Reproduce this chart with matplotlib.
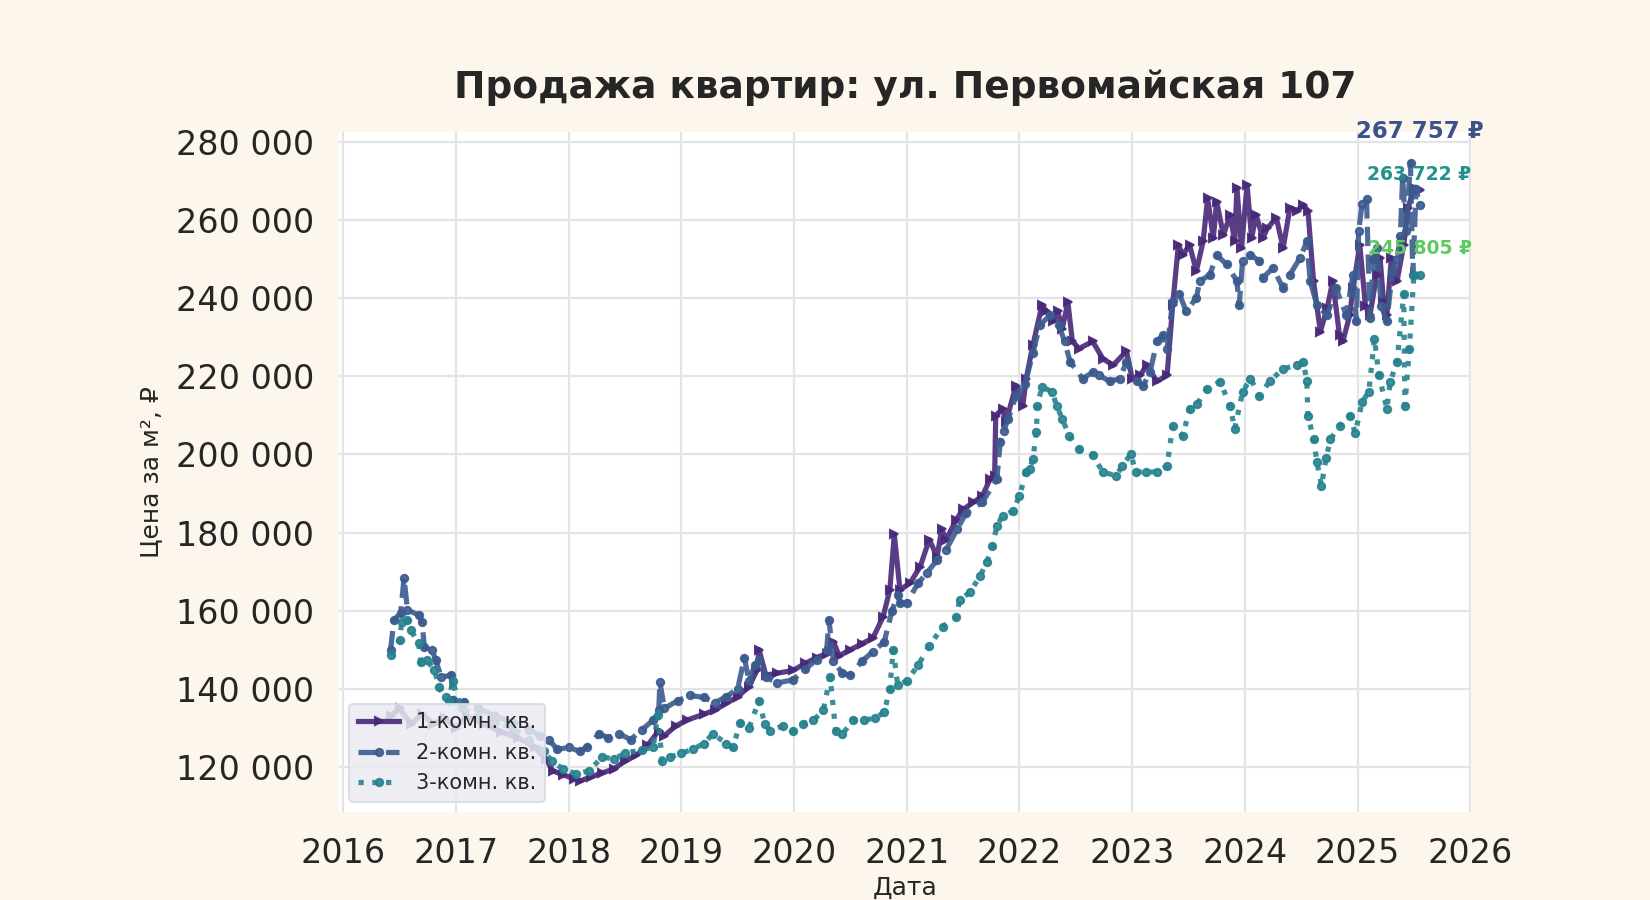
import matplotlib
matplotlib.use("Agg")
import matplotlib.pyplot as plt
from matplotlib.ticker import FuncFormatter

# ---------------- data (decimal years, price per m2) ----------------
labels = ["1-комн. кв.", "2-комн. кв.", "3-комн. кв."]

x1 = [2016.42, 2016.50, 2016.60, 2016.70, 2016.80, 2016.90, 2017.00, 2017.10, 2017.25, 2017.40,
      2017.55, 2017.70, 2017.80, 2017.86, 2017.95, 2018.05, 2018.10, 2018.20, 2018.30, 2018.40,
      2018.50, 2018.60, 2018.70, 2018.80, 2018.85, 2018.95, 2019.05, 2019.20, 2019.30, 2019.40,
      2019.50, 2019.60, 2019.67, 2019.69, 2019.75, 2019.85, 2019.99, 2020.10, 2020.20, 2020.29,
      2020.35, 2020.40, 2020.50, 2020.60, 2020.70, 2020.79, 2020.85, 2020.89, 2020.94, 2021.03,
      2021.12, 2021.20, 2021.27, 2021.31, 2021.35, 2021.44, 2021.50, 2021.59, 2021.67, 2021.74,
      2021.78, 2021.79, 2021.85, 2021.88, 2021.97, 2022.03, 2022.06, 2022.12, 2022.20, 2022.24,
      2022.30, 2022.34, 2022.38, 2022.43, 2022.47, 2022.53, 2022.65, 2022.74, 2022.83, 2022.95,
      2023.00, 2023.07, 2023.13, 2023.22, 2023.31, 2023.36, 2023.41, 2023.45, 2023.51, 2023.57,
      2023.63, 2023.67, 2023.72, 2023.75, 2023.81, 2023.87, 2023.91, 2023.93, 2023.97, 2024.02,
      2024.06, 2024.10, 2024.16, 2024.20, 2024.28, 2024.34, 2024.40, 2024.46, 2024.52, 2024.56,
      2024.61, 2024.67, 2024.73, 2024.78, 2024.84, 2024.87, 2024.93, 2024.96, 2025.02, 2025.07,
      2025.11, 2025.17, 2025.20, 2025.23, 2025.26, 2025.30, 2025.35, 2025.41, 2025.45, 2025.50,
      2025.55]
y1 = [133000, 135000, 131000, 133500, 131000, 132500, 130000, 133000, 131000, 129000,
      127500, 125000, 122000, 119000, 118000, 117000, 116400, 117500, 118500, 119500,
      121500, 123000, 125500, 129300, 128000, 130500, 132000, 133500, 134600, 136300,
      138000, 140500, 144700, 150000, 143500, 144000, 144700, 146500, 148000, 149000,
      152000, 148500, 150000, 151500, 153000, 158400, 165300, 179500, 165300, 167100,
      171300, 178200, 173800, 180800, 178200, 183300, 185900, 187700, 189300, 193700,
      194400, 209900, 211700, 208300, 217600, 212500, 219400, 228000, 238200, 236600,
      234100, 236600, 232200, 238900, 228900, 227100, 228900, 224500, 222800, 226400,
      219400, 220200, 222800, 218700, 220200, 238200, 253600, 251000, 253600, 246900,
      254500, 265600, 255300, 264700, 256100, 261300, 254500, 268200, 252800, 269000,
      255300, 261300, 255300, 257900, 260500, 252800, 263100, 262300, 263800, 262300,
      244300, 231400, 237400, 244300, 230500, 228900, 235600, 242500, 253600, 238000,
      235600, 246000, 250300, 239300, 235600, 250300, 244300, 253600, 263100, 268200,
      267757]

x2 = [2016.42, 2016.45, 2016.51, 2016.54, 2016.57, 2016.67, 2016.70, 2016.72, 2016.79, 2016.82,
      2016.87, 2016.96, 2016.97, 2017.07, 2017.20, 2017.35, 2017.50, 2017.65, 2017.75, 2017.83,
      2017.90, 2018.00, 2018.10, 2018.16, 2018.27, 2018.35, 2018.45, 2018.55, 2018.65, 2018.75,
      2018.80, 2018.81, 2018.85, 2018.97, 2019.08, 2019.20, 2019.30, 2019.40, 2019.50, 2019.56,
      2019.60, 2019.65, 2019.69, 2019.75, 2019.85, 2019.99, 2020.10, 2020.20, 2020.29, 2020.31,
      2020.35, 2020.43, 2020.50, 2020.60, 2020.70, 2020.80, 2020.87, 2020.92, 2020.94, 2021.00,
      2021.10, 2021.18, 2021.27, 2021.35, 2021.45, 2021.53, 2021.67, 2021.80, 2021.83, 2021.86,
      2021.90, 2021.97, 2022.05, 2022.12, 2022.18, 2022.27, 2022.35, 2022.40, 2022.45, 2022.56,
      2022.65, 2022.71, 2022.80, 2022.89, 2022.95, 2023.04, 2023.10, 2023.16, 2023.22, 2023.27,
      2023.31, 2023.36, 2023.42, 2023.48, 2023.57, 2023.60, 2023.69, 2023.75, 2023.84, 2023.93,
      2023.95, 2023.98, 2024.05, 2024.13, 2024.16, 2024.25, 2024.34, 2024.40, 2024.49, 2024.55,
      2024.58, 2024.64, 2024.73, 2024.81, 2024.90, 2024.96, 2024.99, 2025.01, 2025.04, 2025.08,
      2025.11, 2025.14, 2025.17, 2025.21, 2025.26, 2025.31, 2025.35, 2025.38, 2025.40, 2025.43,
      2025.47, 2025.49, 2025.52, 2025.55]
y2 = [149900, 157600, 159400, 168400, 160200, 158900, 157000, 150700, 149900, 147400,
      143000, 143500, 137100, 136600, 135000, 133000, 131500, 129500, 128000, 126800,
      124500, 125000, 124000, 125000, 128500, 127500, 128500, 127000, 129500, 132000,
      134500, 141700, 135000, 137000, 138300, 137800, 136500, 138000, 140000, 148000,
      142000, 146000, 147400, 143000, 141500, 142300, 145000, 147500, 150000, 157700,
      147000, 144000, 143500, 147000, 149500, 152000, 160000, 164000, 162000, 162000,
      167000, 169700, 173000, 175600, 181000, 185100, 187700, 193700, 203200, 206000,
      209000, 215000, 218000, 226000, 233000, 235600, 233000, 229000, 223700, 219400,
      221000, 220200, 218700, 219400, 223700, 218700, 217600, 221200, 228900, 230500,
      227100, 239200, 241000, 236600, 240100, 244300, 246000, 251000, 248600, 244300,
      238200, 249500, 251000, 249500, 245200, 247700, 242500, 246000, 250300, 254500,
      244300, 238200, 235600, 242500, 235600, 246000, 234100, 257200, 264000, 265300,
      234900, 250000, 252800, 238000, 234100, 247000, 250000, 256000, 270800, 257200,
      274700, 246000, 268000, 263722]

x3 = [2016.42, 2016.50, 2016.52, 2016.57, 2016.60, 2016.67, 2016.69, 2016.74, 2016.81, 2016.85,
      2016.91, 2016.94, 2016.97, 2017.05, 2017.20, 2017.35, 2017.50, 2017.65, 2017.78, 2017.85,
      2017.95, 2018.07, 2018.18, 2018.30, 2018.40, 2018.50, 2018.65, 2018.75, 2018.79, 2018.83,
      2018.90, 2019.00, 2019.10, 2019.20, 2019.28, 2019.40, 2019.46, 2019.52, 2019.60, 2019.69,
      2019.74, 2019.79, 2019.90, 2019.99, 2020.08, 2020.17, 2020.26, 2020.32, 2020.37, 2020.43,
      2020.52, 2020.62, 2020.72, 2020.80, 2020.85, 2020.88, 2020.92, 2021.00, 2021.10, 2021.20,
      2021.32, 2021.44, 2021.47, 2021.56, 2021.65, 2021.71, 2021.76, 2021.80, 2021.85, 2021.94,
      2022.00, 2022.06, 2022.09, 2022.12, 2022.15, 2022.16, 2022.20, 2022.29, 2022.33, 2022.38,
      2022.44, 2022.53, 2022.65, 2022.74, 2022.86, 2022.91, 2022.99, 2023.03, 2023.12, 2023.22,
      2023.31, 2023.36, 2023.45, 2023.51, 2023.58, 2023.66, 2023.78, 2023.87, 2023.91, 2023.98,
      2024.05, 2024.13, 2024.22, 2024.34, 2024.46, 2024.52, 2024.55, 2024.56, 2024.61, 2024.64,
      2024.68, 2024.72, 2024.76, 2024.84, 2024.93, 2024.98, 2025.04, 2025.10, 2025.15, 2025.19,
      2025.26, 2025.29, 2025.35, 2025.41, 2025.42, 2025.46, 2025.50, 2025.55]
y3 = [148600, 152500, 157200, 157700, 155000, 151700, 146800, 147400, 144800, 140400,
      137800, 137000, 142000, 135000, 133000, 131500, 130000, 127000, 124000, 121600,
      119500, 118200, 119000, 122600, 122000, 123500, 124400, 125000, 133200, 121600,
      122500, 123500, 124500, 126000, 128500, 126000, 125000, 131300, 130000, 137000,
      131000, 129300, 130500, 129300, 131000, 131900, 134500, 143000, 129300, 128400,
      131900, 132000, 132500, 134000, 140000, 150000, 141000, 142000, 146000, 151000,
      155900, 158400, 162800, 164700, 168800, 172400, 176500, 181700, 184300, 185400,
      189300, 195500, 196300, 198800, 205700, 212500, 217300, 216000, 212500, 209100,
      204800, 201500, 199800, 195500, 194500, 197000, 200100, 195500, 195500, 195500,
      197000, 207300, 204800, 211700, 213000, 216800, 218600, 212500, 206500, 216000,
      219400, 215000, 218700, 221900, 222800, 223700, 218700, 209900, 203900, 198000,
      192000, 199000, 203900, 207300, 209900, 205500, 213400, 216000, 229600, 220200,
      211700, 218600, 223700, 241000, 212500, 227100, 246000, 245805]

title = "Продажа квартир: ул. Первомайская 107"
xlabel = "Дата"
ylabel = "Цена за м², ₽"
year_ticks = [2016, 2017, 2018, 2019, 2020, 2021, 2022, 2023, 2024, 2025, 2026]
y_ticks = [120000, 140000, 160000, 180000, 200000, 220000, 240000, 260000, 280000]

# ---------------- style ----------------
line_colors = ["#482878", "#3b5b8e", "#26828e"]
label_colors = ["#3b528b", "#21918c", "#5ec962"]
styles = ["-", "--", ":"]
markers = [">", "o", "o"]
label_fs = [11, 9, 9]
label_offsets = [28, 15, 13]

fig = plt.figure(figsize=(11, 6), dpi=150, facecolor="#fdf6ec")
ax = fig.add_axes([0.2055, 0.0978, 0.686, 0.756])
ax.set_facecolor("white")
for s in ax.spines.values():
    s.set_visible(False)
ax.grid(True, color="#e4e4e4", linewidth=1.1)
ax.set_axisbelow(True)

series = [(x1, y1), (x2, y2), (x3, y3)]
for i, (xs, ys) in enumerate(series):
    ax.plot(xs, ys, linestyle=styles[i], marker=markers[i], markersize=3.5,
            linewidth=2.5, color=line_colors[i], alpha=0.9, label=labels[i])

for i, (xs, ys) in enumerate(series):
    txt = f"{ys[-1]:,.0f} ₽".replace(",", " ")
    ax.annotate(txt, xy=(xs[-1], ys[-1]), xytext=(0, label_offsets[i]),
                textcoords="offset points", ha="center", va="center",
                fontsize=label_fs[i], fontweight="bold", color=label_colors[i],
                annotation_clip=False)

ax.set_xticks(year_ticks)
ax.set_xticklabels([str(y) for y in year_ticks])
ax.set_yticks(y_ticks)
ax.yaxis.set_major_formatter(FuncFormatter(lambda v, p: f"{v:,.0f}".replace(",", " ")))
ax.tick_params(labelsize=16, length=0, pad=12, colors="#262626")

ax.set_title(title, fontsize=18, fontweight="bold", pad=16, color="#262626")
ax.set_xlabel(xlabel, fontsize=12, color="#262626", labelpad=3)
ax.set_ylabel(ylabel, fontsize=12, color="#262626", labelpad=6)

leg = ax.legend(loc="lower left", fontsize=10, frameon=True, fancybox=True,
                facecolor="#eaeaf2", edgecolor="#d8d8e0", framealpha=0.85)
for t in leg.get_texts():
    t.set_color("#262626")

fig.savefig("out.png", dpi=150, facecolor=fig.get_facecolor())
